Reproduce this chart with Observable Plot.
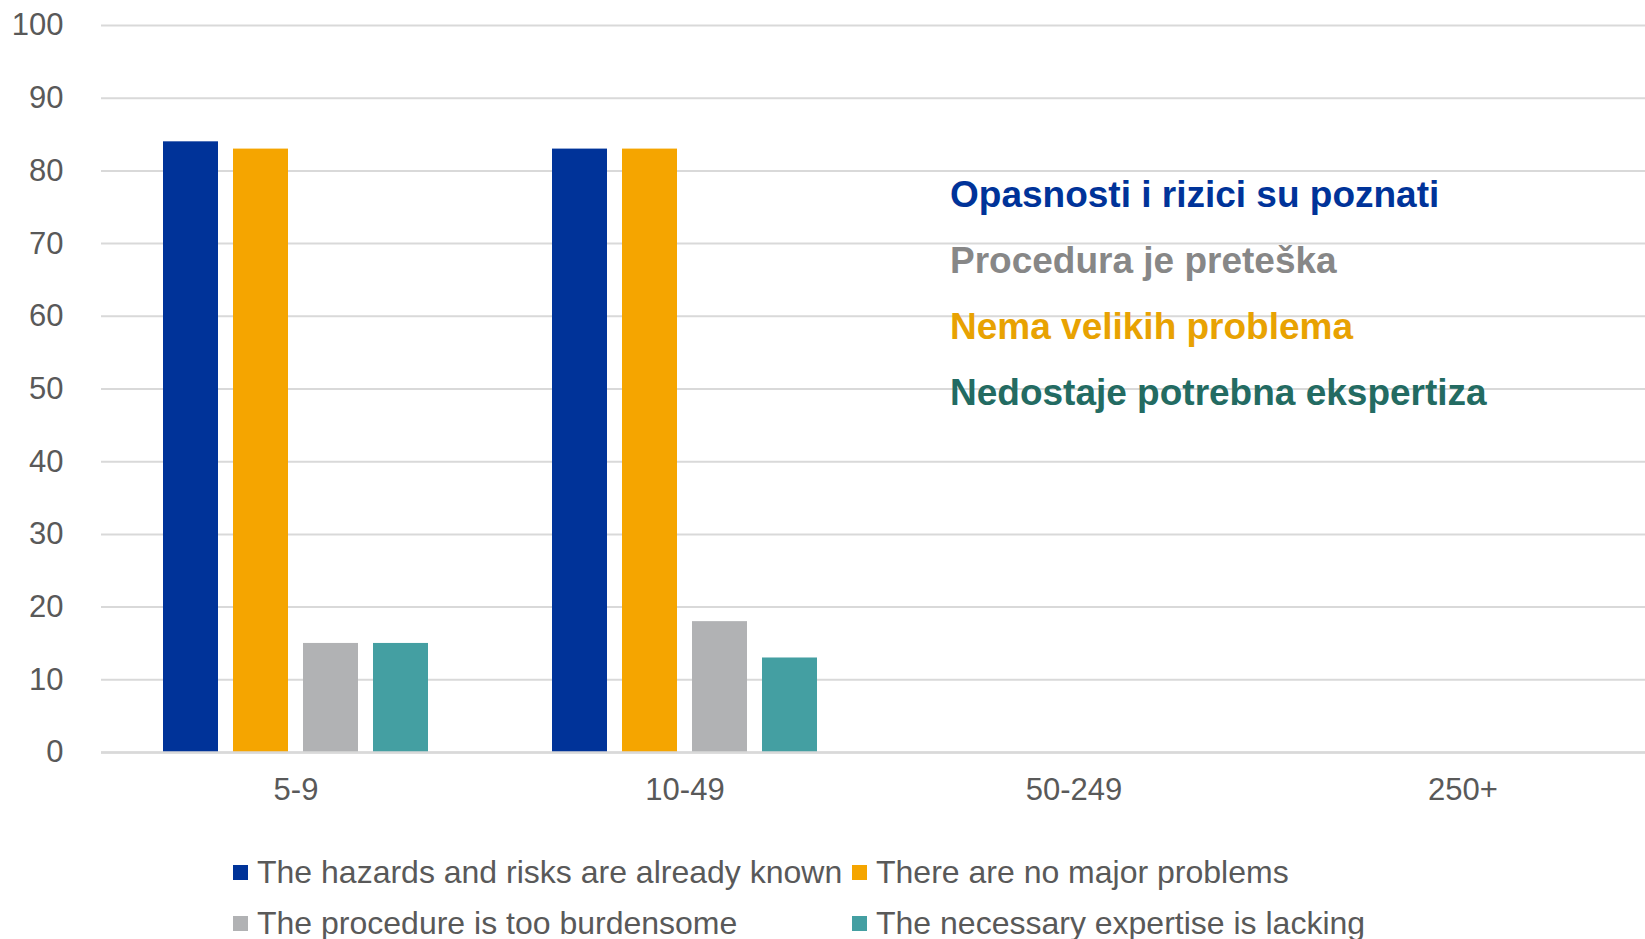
<!DOCTYPE html>
<html>
<head>
<meta charset="utf-8">
<script src="https://cdn.jsdelivr.net/npm/d3@7"></script>
<script src="https://cdn.jsdelivr.net/npm/@observablehq/plot@0.6"></script>
<style>
  html, body { margin: 0; padding: 0; background: #fff; overflow: hidden; }
  body { width: 1645px; height: 939px; position: relative; font-family: "Liberation Sans", Arial, sans-serif; }
  #chart { position: absolute; left: 0; top: 0; width: 1657px; }
  #chart svg { max-width: none !important; }
  #notes { position: absolute; left: 950px; top: 162px; font-weight: bold; font-size: 37px; line-height: 66px; white-space: nowrap; }
  #legend { position: absolute; left: 233px; top: 847px; display: grid; grid-template-columns: 619px auto; font-size: 32px; color: #595959; line-height: 51px; }
  .item { display: flex; align-items: center; white-space: nowrap; }
  .sw { width: 15px; height: 15px; margin-right: 9px; flex: none; }
</style>
</head>
<body>
<div id="chart"></div>
<div id="notes"></div>
<div id="legend"></div>
<script>
const categories = ["5-9", "10-49", "50-249", "250+"];
const series = [
  "The hazards and risks are already known",
  "There are no major problems",
  "The procedure is too burdensome",
  "The necessary expertise is lacking"
];
const hazardsKnown     = [84, 83, null, null];
const noMajorProblems  = [83, 83, null, null];
const tooBurdensome    = [15, 18, null, null];
const expertiseLacking = [15, 13, null, null];
const yTicks = [0, 10, 20, 30, 40, 50, 60, 70, 80, 90, 100];
const barColors = ["#003399", "#F5A500", "#B1B2B4", "#449FA2"];
const notes = ["Opasnosti i rizici su poznati", "Procedura je preteška", "Nema velikih problema", "Nedostaje potrebna ekspertiza"];
const noteColors = ["#003399", "#878787", "#E8A202", "#236B62"];

const seriesValues = [hazardsKnown, noMajorProblems, tooBurdensome, expertiseLacking];
const data = categories.flatMap((c, i) =>
  series.map((s, j) => ({category: c, series: s, value: seriesValues[j][i]}))
);

const chart = Plot.plot({
  width: 1657,
  height: 830,
  marginTop: 25,
  marginBottom: 78,
  marginLeft: 101,
  marginRight: 0,
  style: {fontFamily: "'Liberation Sans', Arial, sans-serif", fontSize: "31px", color: "#595959", background: "#fff", overflow: "visible", maxWidth: "none"},
  fx: {domain: categories, padding: 0, label: null, axis: "bottom", tickSize: 0, tickPadding: 25},
  x: {domain: series, paddingInner: 0.212, paddingOuter: 0.861, axis: null},
  y: {domain: [0, 100], ticks: yTicks, tickSize: 0, tickPadding: 38, label: null},
  color: {domain: series, range: barColors},
  marks: [
    Plot.ruleY(yTicks, {stroke: "#D9D9D9", strokeWidth: 2}),
    Plot.barY(data, {fx: "category", x: "series", y: "value", fill: "series"}),
    Plot.ruleY([0], {stroke: "#D9D9D9", strokeWidth: 2.5})
  ]
});
document.getElementById("chart").appendChild(chart);

const notesEl = document.getElementById("notes");
notes.forEach((t, i) => {
  const d = document.createElement("div");
  d.textContent = t;
  d.style.color = noteColors[i];
  notesEl.appendChild(d);
});

const legendEl = document.getElementById("legend");
series.forEach((s, i) => {
  const it = document.createElement("div");
  it.className = "item";
  const sw = document.createElement("span");
  sw.className = "sw";
  sw.style.background = barColors[i];
  const tx = document.createElement("span");
  tx.textContent = s;
  it.appendChild(sw);
  it.appendChild(tx);
  legendEl.appendChild(it);
});
</script>
</body>
</html>
